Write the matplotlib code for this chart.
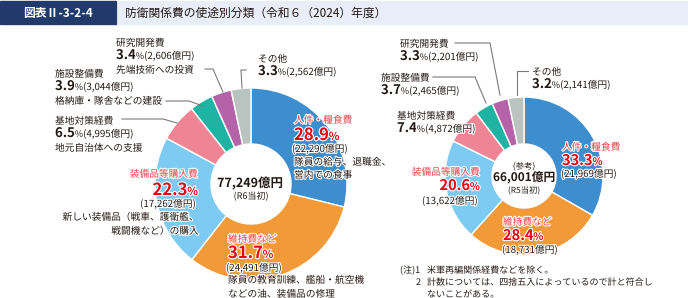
import matplotlib.pyplot as plt
import matplotlib.patheffects as pe
from matplotlib.patches import Rectangle

plt.rcParams['font.family'] = ['Noto Sans CJK JP', 'DejaVu Sans']

# data (R6 budget and R5 budget for reference)
categories = ['人件・糧食費', '維持費など', '装備品等購入費', '基地対策経費', '施設整備費', '研究開発費', 'その他']
share_r6 = [28.9, 31.7, 22.3, 6.5, 3.9, 3.4, 3.3]
amount_r6 = [22290, 24491, 17262, 4995, 3044, 2606, 2562]
share_r5 = [33.3, 28.4, 20.6, 7.4, 3.7, 3.3, 3.2]
amount_r5 = [21969, 18731, 13622, 4872, 2465, 2201, 2141]
total_r6 = 77249
total_r5 = 66001
notes_r6 = [['隊員の給与、退職金、', '営内での食事'],
            ['隊員の教育訓練、艦船・航空機', 'などの油、装備品の修理'],
            ['新しい装備品（戦車、護衛艦、', '戦闘機など）の購入'],
            ['地元自治体への支援'],
            ['格納庫・隊舎などの建設'],
            ['先端技術への投資'],
            []]
colors = ['#3d8ecf', '#f29a37', '#7dcaf2', '#ef8594', '#1fb3a3', '#b563a8', '#b9c3bf']

RED = '#e60012'
RED2 = '#e8404a'
DARK = '#231815'
GREY = '#7a7a7a'

W, H = 688, 298
fig = plt.figure(figsize=(W / 100, H / 100), dpi=100)
ax = fig.add_axes([0, 0, 1, 1])
renderer = fig.canvas.get_renderer()
halo = [pe.withStroke(linewidth=1.6, foreground='white')]


def Y(y):
    return H - y


def row(x, y, parts, ha='left'):
    # parts: (text, size, weight, color)
    texts = []
    for s, size, weight, color in parts:
        t = ax.text(0, Y(y), s, fontsize=size, fontweight=weight, color=color,
                    va='baseline', ha='left', path_effects=halo)
        texts.append(t)
    widths = [t.get_window_extent(renderer).width for t in texts]
    total = sum(widths)
    if ha == 'right':
        x0 = x - total
    elif ha == 'center':
        x0 = x - total / 2
    else:
        x0 = x
    for t, w in zip(texts, widths):
        t.set_x(x0)
        x0 += w


def leader(xs, ys):
    ax.plot(xs, [Y(v) for v in ys], color=GREY, lw=0.8, zorder=1)


# pies
ax.pie(amount_r6, colors=colors, startangle=90, counterclock=False,
       center=(251, Y(184)), radius=96,
       wedgeprops=dict(width=56, edgecolor='white', linewidth=1))
ax.pie(amount_r5, colors=colors, startangle=90, counterclock=False,
       center=(524, Y(176)), radius=79,
       wedgeprops=dict(width=47, edgecolor='white', linewidth=1))

# title bar
ax.add_patch(Rectangle((0, Y(24)), 116, 23, color='#1f3a6b', zorder=0))
ax.add_patch(Rectangle((118, Y(24)), W - 118, 23, color='#e8edf7', zorder=0))
ax.text(58, Y(13), '図表Ⅱ-3-2-4', color='white', fontsize=8.5, fontweight='bold',
        ha='center', va='center')
ax.text(125, Y(13), '防衛関係費の使途別分類（令和６（2024）年度）', color=DARK,
        fontsize=8.5, ha='left', va='center')


def pct(v):
    return f'{v:.1f}'


def yen(v):
    return f'({v:,}億円)'


# ---- left chart labels
small = 7
# small slices: name / pct line / note
left_small = {5: (116, 46), 4: (55, 77), 3: (55, 124), 6: (258, 62)}
for i, (x, y) in left_small.items():
    row(x, y, [(categories[i], small, 'normal', DARK)])
    row(x, y + 13, [(pct(share_r6[i]), 9.5, 'bold', DARK), ('%', 6.5, 'normal', DARK),
                    (yen(amount_r6[i]), small, 'normal', DARK)])
    for k, n in enumerate(notes_r6[i]):
        row(x, y + 27 + 14 * k, [(n, small, 'normal', DARK)])

leader([205, 213, 223], [69, 69, 92])
leader([166, 189, 203], [101, 101, 106])
leader([122, 163, 177], [119, 119, 123])
leader([246, 241, 242], [70, 70, 88])

# personnel
row(294, 123, [(categories[0], small, 'normal', RED2)])
row(294, 140, [(pct(share_r6[0]), 12, 'bold', RED), ('%', 8, 'bold', RED)])
row(292, 152, [(yen(amount_r6[0]), small, 'normal', DARK)])
for k, n in enumerate(notes_r6[0]):
    row(294, 165 + 13 * k, [(n, small, 'normal', DARK)])

# maintenance
row(228, 242, [(categories[1], small, 'normal', RED2)])
row(228, 258, [(pct(share_r6[1]), 12, 'bold', RED), ('%', 8, 'bold', RED)])
row(226, 271, [(yen(amount_r6[1]), small, 'normal', DARK)])
for k, n in enumerate(notes_r6[1]):
    row(228, 283 + 14 * k, [(n, small, 'normal', DARK)])

# equipment
row(198, 177, [(categories[2], small, 'normal', RED2)], ha='right')
row(198, 195, [(pct(share_r6[2]), 12, 'bold', RED), ('%', 8, 'bold', RED)], ha='right')
row(196, 207, [(yen(amount_r6[2]), small, 'normal', DARK)], ha='right')
for k, n in enumerate(notes_r6[2]):
    row(199, 220 + 14 * k, [(n, small, 'normal', DARK)], ha='right')

# centre
row(250, 187, [(f'{total_r6:,}億円', 9, 'bold', DARK)], ha='center')
row(251, 199, [('(R6当初)', 6.5, 'normal', DARK)], ha='center')

# ---- right chart labels
right_small = {5: (400, 47), 4: (381, 81), 3: (397, 119), 6: (532, 75)}
for i, (x, y) in right_small.items():
    row(x, y, [(categories[i], small, 'normal', DARK)])
    row(x, y + 13, [(pct(share_r5[i]), 9.5, 'bold', DARK), ('%', 6.5, 'normal', DARK),
                    (yen(amount_r5[i]), small, 'normal', DARK)])

leader([455, 490, 500], [43, 43, 95])
leader([433, 475, 486], [77, 77, 103])
leader([528, 517, 517], [71, 71, 95])

row(562, 150, [(categories[0], small, 'normal', RED2)])
row(562, 165, [(pct(share_r5[0]), 10.5, 'bold', RED), ('%', 7.5, 'bold', RED)])
row(561, 177, [(yen(amount_r5[0]), small, 'normal', DARK)])

row(480, 175, [(categories[2], small, 'normal', RED2)], ha='right')
row(480, 190, [(pct(share_r5[2]), 10.5, 'bold', RED), ('%', 7.5, 'bold', RED)], ha='right')
row(478, 204, [(yen(amount_r5[2]), small, 'normal', DARK)], ha='right')

row(503, 225, [(categories[1], small, 'normal', RED2)])
row(503, 240, [(pct(share_r5[1]), 10.5, 'bold', RED), ('%', 7.5, 'bold', RED)])
row(502, 253, [(yen(amount_r5[1]), small, 'normal', DARK)])

row(524, 169, [('(参考)', 6, 'normal', DARK)], ha='center')
row(524, 181, [(f'{total_r5:,}億円', 8.5, 'bold', DARK)], ha='center')
row(524, 193, [('(R5当初)', 6, 'normal', DARK)], ha='center')

# notes
row(400, 273, [('(注)1', 6.5, 'normal', DARK)])
row(427, 273, [('米軍再編関係経費などを除く。', 6.5, 'normal', DARK)])
row(416, 285, [('2', 6.5, 'normal', DARK)])
row(427, 285, [('計数については、四捨五入によっているので計と符合し', 6.5, 'normal', DARK)])
row(427, 297, [('ないことがある。', 6.5, 'normal', DARK)])

ax.set_xlim(0, W)
ax.set_ylim(0, H)
ax.axis('off')
fig.savefig('out.png', dpi=100)
